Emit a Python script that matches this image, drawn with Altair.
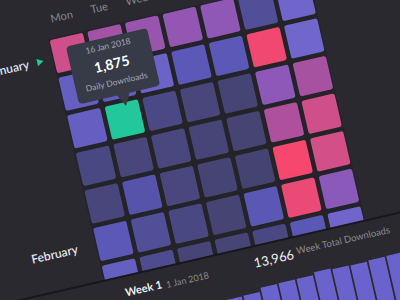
import altair as alt
import pandas as pd

# ---------------- data ----------------
days = ["Mon", "Tue", "Wed", "Thu", "Fri", "Sat", "Sun"]
months = ["January", "February"]
month_week = [0.05, 5.0]          # week row where the month label sits
downloads = [
    [1800, 1500, 1420, 1380, 1350, 700, 1080],
    [1000, 950, 1050, 900, 900, 2100, 1100],
    [1000, 1875, 580, 520, 480, 1330, 1530],
    [560, 520, 540, 500, 470, 1580, 1800],
    [520, 810, 540, 480, 460, 2150, 1830],
    [900, 700, 560, 470, 880, 2050, 1320],
    [1000, 640, 500, 490, 560, 880, 1080],
]
selected_week, selected_day = 2, 1
tooltip_lines = ["16 Jan 2018", "1,875", "Daily Downloads"]
week_label = ["Week 1", "1 Jan 2018"]
week_total = ["13,966", "Week Total Downloads"]
bar_values = [850, 860, 960, 970, 970, 1040, 1010, 1000, 1020, 1030]

color_stops = [450, 900, 1100, 1350, 1600, 1850, 2150]
color_range = ["#444370", "#5b58b8", "#7166cc", "#8f57b6", "#b14f99", "#d64f86", "#f6476e"]

# ---------------- geometry (rotated grid) ----------------
OX, OY = 70, 53
UX, UY = 37.6, -8.68
VX, VY = 8.68, 37.6
ANG = 347
BG = "#2a292f"
FONT = "Lato"

xs = alt.Scale(domain=[0, 400], range=[0, 400], zero=False, nice=False)
ys = alt.Scale(domain=[0, 300], range=[0, 300], zero=False, nice=False)


def placed(base, c="c", r="r"):
    return base.transform_calculate(
        px=f"{OX} + {UX}*datum.{c} + {VX}*datum.{r}",
        py=f"{OY} + {UY}*datum.{c} + {VY}*datum.{r}",
    ).encode(
        x=alt.X("px:Q", scale=xs, axis=None),
        y=alt.Y("py:Q", scale=ys, axis=None),
    )


FULL = ("M -0.86,-1 L 0.86,-1 Q 1,-1 1,-0.86 L 1,0.86 Q 1,1 0.86,1 L -0.86,1 "
        "Q -1,1 -1,0.86 L -1,-0.86 Q -1,-1 -0.86,-1 Z")
HALF = ("M -0.86,-1 L 0.86,-1 Q 1,-1 1,-0.86 L 1,-0.1 L -1,-0.1 L -1,-0.86 "
        "Q -1,-1 -0.86,-1 Z")
PLATE = "M -1,-0.925 L 1,-0.925 L 1,0.925 L -1,0.925 Z"
TIP = ("M -0.9,-0.71 L 0.9,-0.71 Q 1,-0.71 1,-0.61 L 1,0.61 Q 1,0.71 0.9,0.71 "
       "L 0.24,0.71 L 0.09,1.0 L -0.06,0.71 L -0.9,0.71 Q -1,0.71 -1,0.61 "
       "L -1,-0.61 Q -1,-0.71 -0.9,-0.71 Z")
BAR = "M -0.14,-1 L 0.14,-1 L 0.14,1 L -0.14,1 Z"

rows = []
for w, vals in enumerate(downloads):
    for d, v in enumerate(vals):
        rows.append({"c": d, "r": w, "downloads": v,
                     "sel": (w == selected_week and d == selected_day),
                     "last": w == len(downloads) - 1})
cells = pd.DataFrame(rows)

color = alt.Color("downloads:Q", legend=None,
                  scale=alt.Scale(domain=color_stops, range=color_range, interpolate="rgb"))

plate = placed(alt.Chart(pd.DataFrame({"c": [3.0], "r": [2.74]})).mark_point(
    shape=PLATE, size=71824, filled=True, opacity=1, color="#232328", angle=ANG))

full_cells = placed(alt.Chart(cells).transform_filter("!datum.sel && !datum.last").mark_point(
    shape=FULL, size=1156, filled=True, opacity=1, angle=ANG)).encode(color=color)
half_cells = placed(alt.Chart(cells).transform_filter("datum.last").mark_point(
    shape=HALF, size=1156, filled=True, opacity=1, angle=ANG)).encode(color=color)
sel_cell = placed(alt.Chart(cells).transform_filter("datum.sel").mark_point(
    shape=FULL, size=1156, filled=True, opacity=1, angle=ANG, color="#22c79b"))

sep_df = pd.DataFrame({"c": [-4.0], "r": [5.95], "c2": [10.0]})
separator = alt.Chart(sep_df).transform_calculate(
    px=f"{OX} + {UX}*datum.c + {VX}*datum.r",
    py=f"{OY} + {UY}*datum.c + {VY}*datum.r",
    px2=f"{OX} + {UX}*datum.c2 + {VX}*datum.r",
    py2=f"{OY} + {UY}*datum.c2 + {VY}*datum.r",
).mark_rule(color="#18181c", strokeWidth=2).encode(
    x=alt.X("px:Q", scale=xs, axis=None), y=alt.Y("py:Q", scale=ys, axis=None),
    x2="px2:Q", y2="py2:Q")

bars_df = pd.DataFrame({"k": list(range(len(bar_values))), "v": bar_values})
bars = placed(alt.Chart(bars_df).transform_calculate(
    c="2.7 + 0.48*datum.k", r="8.0 - datum.v/1000 + 1.554"
).mark_point(shape=BAR, size=14400, filled=True, opacity=1, angle=ANG, color="#6b63cd"))

day_df = pd.DataFrame({"c": list(range(len(days))), "r": -0.95, "t": days})
day_labels = placed(alt.Chart(day_df).mark_text(
    angle=ANG, fontSize=11, font=FONT, color="#85858f", align="center", baseline="middle"
)).encode(text="t:N")

month_df = pd.DataFrame({"c": [-1.1, -0.95], "r": month_week, "t": months})
month_labels = placed(alt.Chart(month_df).mark_text(
    angle=ANG, fontSize=12, font=FONT, color="#e4e4ea", align="right", baseline="middle",
    fontWeight=600)).encode(text="t:N")

tri = placed(alt.Chart(pd.DataFrame({"c": [-0.8], "r": [0.05]})).mark_point(
    shape="triangle-right", size=55, filled=True, opacity=1, angle=ANG, color="#22c79b"))

tip_box = placed(alt.Chart(pd.DataFrame({"c": [1.01], "r": [0.585]})).mark_point(
    shape=TIP, size=6922, filled=True, opacity=1, angle=ANG, color="#373a47"))

tip_df = pd.DataFrame({"c": [1.0, 0.99, 1.01], "r": [0.04, 0.55, 1.0], "t": tooltip_lines})
tip_small = placed(alt.Chart(tip_df).transform_filter("datum.t != '1,875'").mark_text(
    angle=ANG, fontSize=8.5, font=FONT, color="#a6a9b5", align="center", baseline="middle"
)).encode(text="t:N")
tip_big = placed(alt.Chart(tip_df).transform_filter("datum.t == '1,875'").mark_text(
    angle=ANG, fontSize=14, font=FONT, color="#ffffff", align="center", baseline="middle",
    fontWeight="bold")).encode(text="t:N")

wk_df = pd.DataFrame({"c": [0.0, 1.08], "r": [6.4, 6.42], "t": week_label})
wk1 = placed(alt.Chart(wk_df.iloc[[0]]).mark_text(
    angle=ANG, fontSize=11, font=FONT, color="#ececf0", align="left", baseline="middle",
    fontWeight="bold")).encode(text="t:N")
wk2 = placed(alt.Chart(wk_df.iloc[[1]]).mark_text(
    angle=ANG, fontSize=9, font=FONT, color="#8a8a94", align="left", baseline="middle"
)).encode(text="t:N")

tot_df = pd.DataFrame({"c": [3.42, 4.56], "r": [6.4, 6.33], "t": week_total})
tot1 = placed(alt.Chart(tot_df.iloc[[0]]).mark_text(
    angle=ANG, fontSize=13, font=FONT, color="#f0f0f4", align="left", baseline="middle"
)).encode(text="t:N")
tot2 = placed(alt.Chart(tot_df.iloc[[1]]).mark_text(
    angle=ANG, fontSize=9.5, font=FONT, color="#8a8a94", align="left", baseline="middle"
)).encode(text="t:N")

chart = alt.layer(
    plate, full_cells, half_cells, sel_cell, separator, bars,
    day_labels, month_labels, tri, wk1, wk2, tot1, tot2,
    tip_box, tip_small, tip_big,
).properties(
    width=400, height=300, background=BG, padding=0,
    autosize=alt.AutoSizeParams(type="none"),
).configure_view(stroke=None)

chart.save("out.html", embed_options={"renderer": "svg", "actions": False})
